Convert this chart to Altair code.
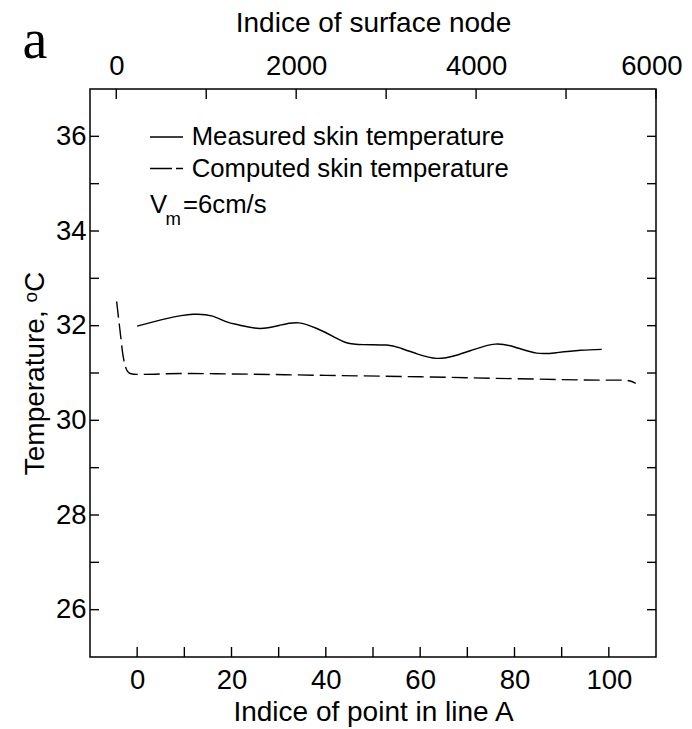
import altair as alt
import pandas as pd

# ---- data ----
meas_x = [0, 6.2, 11.9, 16, 19, 21.8, 26.0, 30.3, 34.2, 38.1, 41.6, 44.4, 48, 52.9, 55.7,
          59.5, 63.5, 67.5, 71.5, 75.9, 80, 84.7, 89, 94, 98.5]
meas_y = [31.99, 32.15, 32.24, 32.20, 32.08, 32.01, 31.94, 32.01, 32.06, 31.94, 31.77, 31.64,
          31.60, 31.59, 31.53, 31.40, 31.31, 31.37, 31.50, 31.61, 31.55, 31.42, 31.43, 31.48, 31.50]
comp_x = [-4.35, -3.7, -2.95, -2.37, -1.5, 0, 10, 20, 40, 60, 80, 100, 103, 104.5, 105.7]
comp_y = [32.51, 31.95, 31.34, 31.10, 30.99, 30.97, 30.99, 30.98, 30.95, 30.92, 30.88, 30.85,
          30.85, 30.83, 30.78]

bottom_labels = [0, 20, 40, 60, 80, 100]
bottom_ticks = [0, 10, 20, 30, 40, 50, 60, 70, 80, 90, 100]
y_labels = [26, 28, 30, 32, 34, 36]
y_ticks = [26, 27, 28, 29, 30, 31, 32, 33, 34, 35, 36]
top_labels = [0, 2000, 4000, 6000]
top_ticks = [0, 1000, 2000, 3000, 4000, 5000, 6000]
legend_labels = ["Measured skin temperature", "Computed skin temperature"]

W, H = 566, 568
FONT = "Liberation Sans"
LW = 1.4
LFS = 27.5   # tick label size
TFS = 28     # axis title size

meas = pd.DataFrame({"x": meas_x, "y": meas_y})
comp = pd.DataFrame({"x": comp_x, "y": comp_y})

xs = alt.Scale(domain=[-10, 110], nice=False, zero=False)
ys = alt.Scale(domain=[25, 37], nice=False, zero=False)
ts = alt.Scale(domain=[-292, 6000], nice=False, zero=False)

x_axis = alt.Axis(values=bottom_labels, ticks=False, tickSize=0, domain=False, grid=False,
                  labelFontSize=LFS, labelPadding=9, labelFlush=False,
                  title="Indice of point in line A", titleFontSize=TFS, titlePadding=5, format="d")
y_axis = alt.Axis(values=y_labels, ticks=False, tickSize=0, domain=False, grid=False,
                  labelFontSize=LFS, labelPadding=4, labelFlush=False,
                  title="Temperature, ᵒC", titleFontSize=TFS, titlePadding=6, format="d")
top_axis = alt.Axis(values=top_labels, orient="top", ticks=False, tickSize=0, domain=False,
                    grid=False, labelFontSize=LFS, labelPadding=9, labelFlush=1,
                    labelFlushOffset=26, format="d",
                    title="Indice of surface node", titleFontSize=TFS, titlePadding=15)


def X(field):
    return alt.X(field, scale=xs, axis=x_axis)


def Y(field):
    return alt.Y(field, scale=ys, axis=y_axis)


l_meas = alt.Chart(meas).mark_line(color="black", strokeWidth=LW, interpolate="natural").encode(
    x=X("x:Q"), y=Y("y:Q"))
l_comp = alt.Chart(comp).mark_line(color="black", strokeWidth=LW, strokeDash=[16, 6],
                                   interpolate="monotone").encode(
    x=X("x:Q"), y=Y("y:Q"))

ydf = pd.DataFrame({"v": y_ticks})
left_t = alt.Chart(ydf).mark_rule(color="black", strokeWidth=LW).encode(
    y=Y("v:Q"), x=alt.value(0), x2=alt.value(9))
right_t = alt.Chart(ydf).mark_rule(color="black", strokeWidth=LW).encode(
    y=Y("v:Q"), x=alt.value(W - 9), x2=alt.value(W))
bot_t = alt.Chart(pd.DataFrame({"v": bottom_ticks})).mark_rule(color="black", strokeWidth=LW).encode(
    x=X("v:Q"), y=alt.value(H), y2=alt.value(H - 10))

one = pd.DataFrame({"k": [0]})
leg_solid = alt.Chart(one).mark_rule(color="black", strokeWidth=LW).encode(
    x=alt.value(60), x2=alt.value(93), y=alt.value(48))
leg_dash = alt.Chart(one).mark_rule(color="black", strokeWidth=LW, strokeDash=[22, 4, 7, 60]).encode(
    x=alt.value(60), x2=alt.value(93), y=alt.value(79.5))
txt = dict(align="left", baseline="alphabetic", font=FONT, fontSize=25.7, color="black")
leg_t1 = alt.Chart(one).mark_text(**txt).encode(
    x=alt.value(101.7), y=alt.value(56), text=alt.value(legend_labels[0]))
leg_t2 = alt.Chart(one).mark_text(**txt).encode(
    x=alt.value(101.7), y=alt.value(87.7), text=alt.value(legend_labels[1]))
v_t = alt.Chart(one).mark_text(**txt).encode(
    x=alt.value(60), y=alt.value(123.7), text=alt.value("V"))
m_t = alt.Chart(one).mark_text(align="left", baseline="alphabetic", font=FONT, fontSize=18.5,
                               color="black").encode(
    x=alt.value(75.5), y=alt.value(135.5), text=alt.value("m"))
eq_t = alt.Chart(one).mark_text(**txt).encode(
    x=alt.value(93), y=alt.value(123.7), text=alt.value("=6cm/s"))
a_t = alt.Chart(one).mark_text(align="center", baseline="alphabetic", font="Liberation Serif",
                               fontSize=56, color="black").encode(
    x=alt.value(-55), y=alt.value(-31), text=alt.value("a"))

top_t = alt.Chart(pd.DataFrame({"v": top_ticks})).mark_rule(color="black", strokeWidth=LW).encode(
    x=alt.X("v:Q", scale=ts, axis=top_axis), y=alt.value(0), y2=alt.value(10))

main = alt.layer(l_meas, l_comp, left_t, right_t, bot_t, leg_solid, leg_dash,
                 leg_t1, leg_t2, v_t, m_t, eq_t, a_t)

chart = alt.layer(main, top_t).resolve_scale(x="independent").properties(
    width=W, height=H,
    autosize=alt.AutoSizeParams(type="none"),
    padding={"left": 82, "top": 81, "right": 28, "bottom": 72},
).configure_view(stroke="black", strokeWidth=1.5).configure_axis(
    labelFont=FONT, titleFont=FONT, labelColor="black", titleColor="black",
    titleFontWeight="normal")

chart.save("out.html", embed_options={"renderer": "svg", "actions": False})
